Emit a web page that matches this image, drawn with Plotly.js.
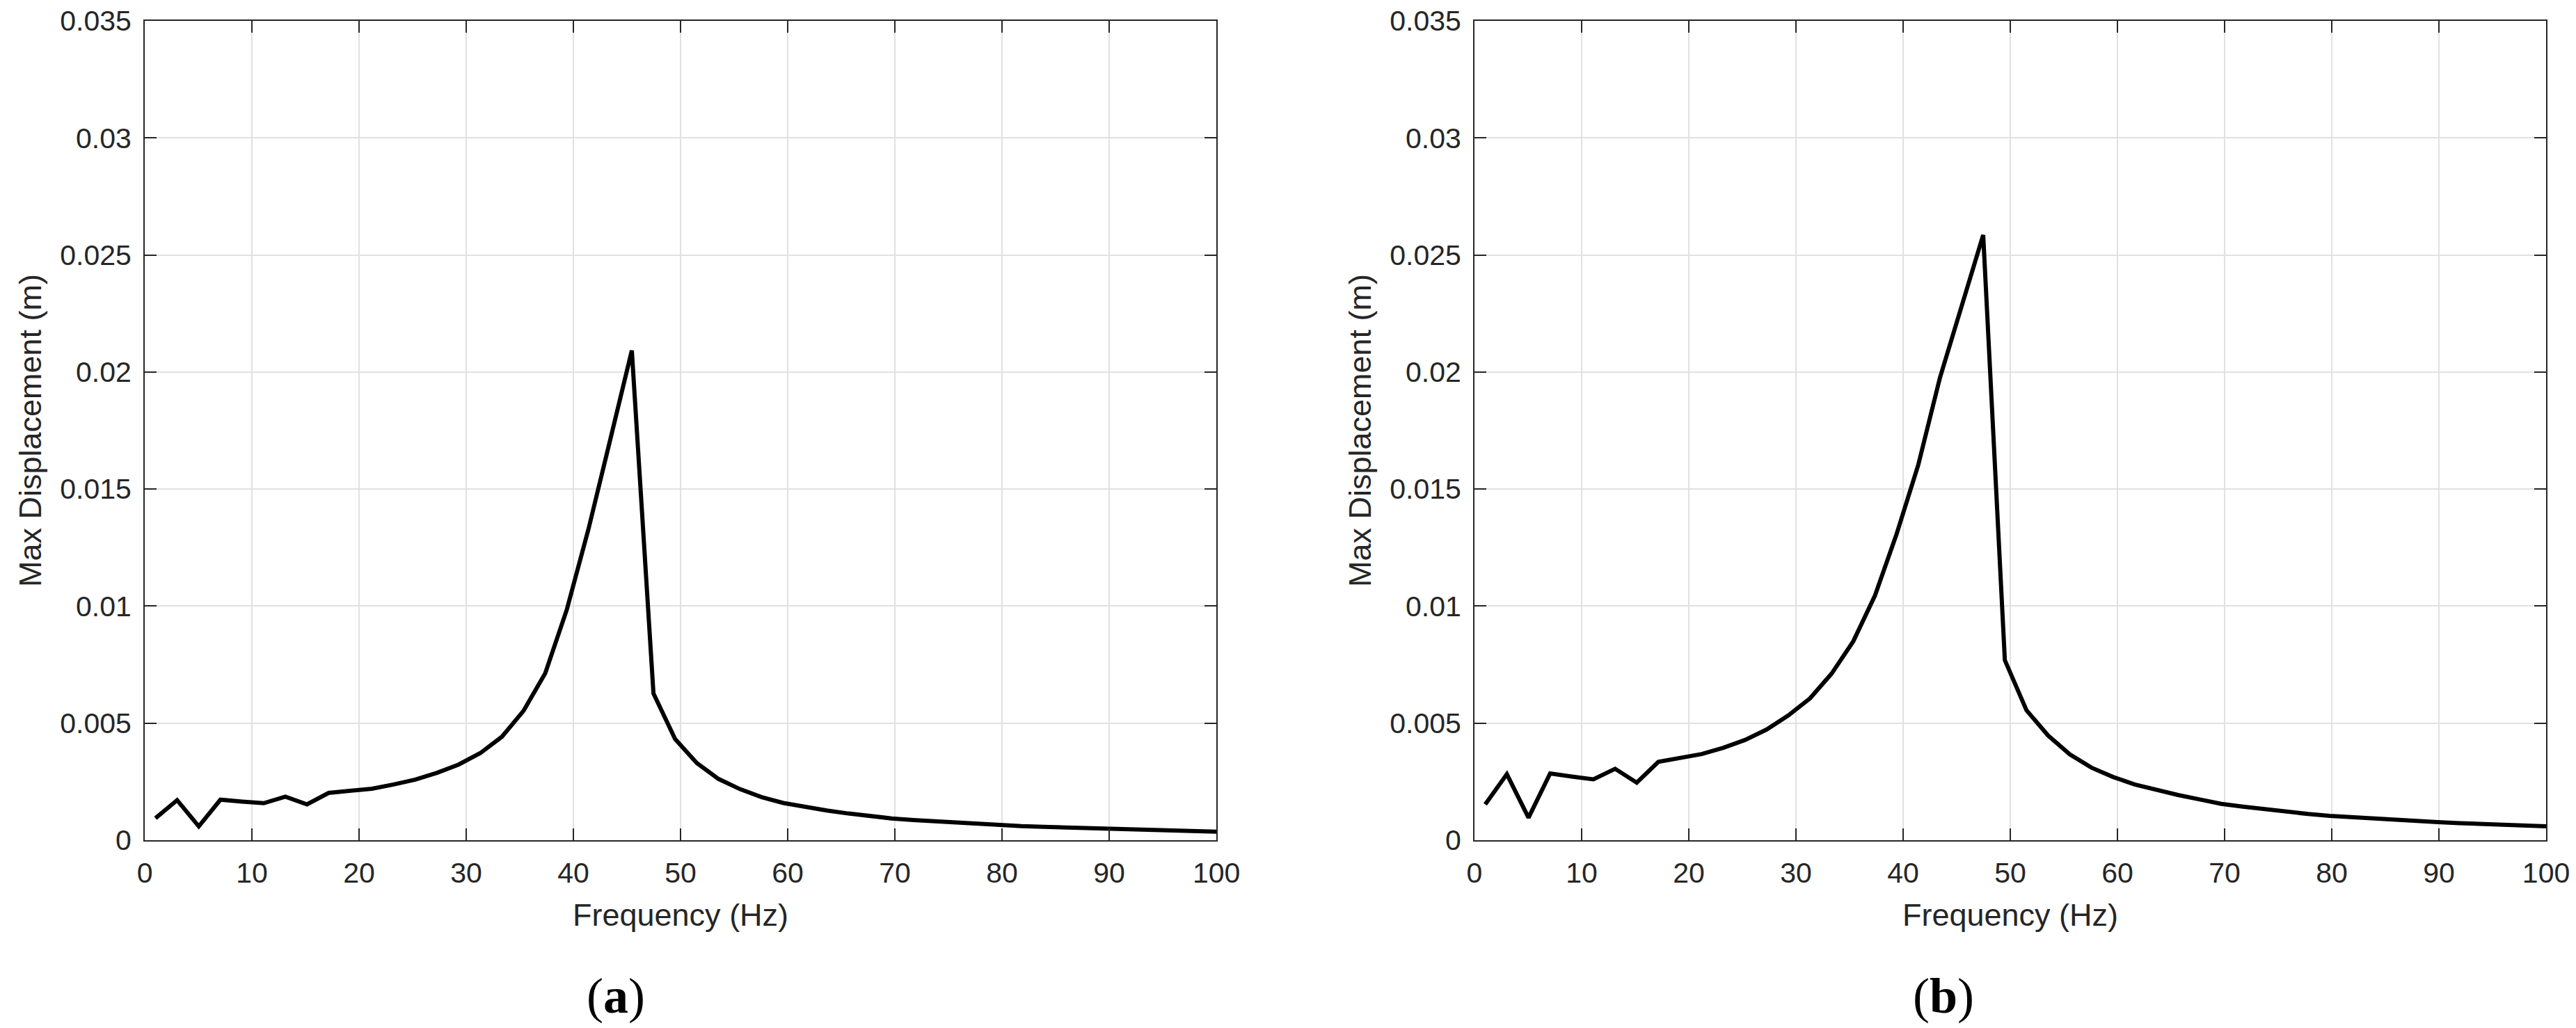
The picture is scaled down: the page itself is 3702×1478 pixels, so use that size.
<!DOCTYPE html>
<html>
<head>
<meta charset="utf-8">
<script src="https://cdn.plot.ly/plotly-3.0.1.min.js"></script>
<style>
  body { margin: 0; background: #fff; }
  #plot { width: 3702px; height: 1478px; }
</style>
</head>
<body>
<div id="plot"></div>
<script>
// excitation frequencies (Hz), 50 steps from 1 to 100
const freq = [1.00, 3.02, 5.04, 7.06, 9.08, 11.10, 13.12, 15.14, 17.16, 19.18,
  21.20, 23.22, 25.24, 27.27, 29.29, 31.31, 33.33, 35.35, 37.37, 39.39,
  41.41, 43.43, 45.45, 47.47, 49.49, 51.51, 53.53, 55.55, 57.57, 59.59,
  61.61, 63.63, 65.65, 67.67, 69.69, 71.71, 73.73, 75.76, 77.78, 79.80,
  81.82, 83.84, 85.86, 87.88, 89.90, 91.92, 93.94, 95.96, 97.98, 100.00]

// max displacement (m), panel (a)
const dispA = [0.00094, 0.00171, 0.00059, 0.00173, 0.00165, 0.00158, 0.00186, 0.00153, 0.00202, 0.00210,
  0.00220, 0.00238, 0.00259, 0.00288, 0.00323, 0.00372, 0.00442, 0.00553, 0.00713, 0.00986,
  0.01330, 0.01710, 0.02092, 0.00627, 0.00432, 0.00330, 0.00262, 0.00218, 0.00184, 0.00159,
  0.00142, 0.00127, 0.00114, 0.00103, 0.00093, 0.00086, 0.00080, 0.00074, 0.00068, 0.00063,
  0.00060, 0.00057, 0.00054, 0.00051, 0.00048, 0.00045, 0.00043, 0.00041, 0.00038, 0.00036]

// max displacement (m), panel (b)
const dispB = [0.00153, 0.00282, 0.00096, 0.00285, 0.00272, 0.00260, 0.00305, 0.00246, 0.00335, 0.00350,
  0.00368, 0.00395, 0.00428, 0.00473, 0.00533, 0.00606, 0.00712, 0.00850, 0.01045, 0.01308,
  0.01603, 0.01975, 0.02280, 0.02585, 0.00769, 0.00555, 0.00447, 0.00367, 0.00310, 0.00270,
  0.00238, 0.00214, 0.00193, 0.00174, 0.00155, 0.00143, 0.00132, 0.00122, 0.00112, 0.00104,
  0.00098, 0.00092, 0.00087, 0.00082, 0.00077, 0.00073, 0.00069, 0.00065, 0.00062, 0.00059]

const panelLabels = ["(<b>a</b>)", "(<b>b</b>)"]
const xTitle = "Frequency (Hz)"
const yTitle = "Max Displacement (m)"

const ink = "#262626"
const sans = "Liberation Sans, Arial, sans-serif"

function xAxis(domain, anchor) {
  return {
    domain: domain, anchor: anchor,
    range: [0, 100], dtick: 10,
    showline: true, linecolor: ink, linewidth: 2, mirror: "allticks",
    ticks: "inside", ticklen: 17, tickwidth: 2, tickcolor: ink,
    ticklabelstandoff: 10,
    showgrid: true, gridcolor: "#e1e1e1", gridwidth: 2, zeroline: false,
    tickfont: {family: sans, size: 41, color: ink},
    title: {text: xTitle, font: {family: sans, size: 45, color: ink}, standoff: 22}
  }
}

function yAxis(domain, anchor) {
  return {
    domain: domain, anchor: anchor,
    range: [0, 0.035], dtick: 0.005,
    showline: true, linecolor: ink, linewidth: 2, mirror: "allticks",
    ticks: "inside", ticklen: 17, tickwidth: 2, tickcolor: ink,
    ticklabelstandoff: 9,
    showgrid: true, gridcolor: "#e1e1e1", gridwidth: 2, zeroline: false,
    tickfont: {family: sans, size: 41, color: ink},
    title: {text: yTitle, font: {family: sans, size: 45, color: ink}, standoff: 12}
  }
}

const traceA = {
  x: freq, y: dispA, xaxis: "x", yaxis: "y",
  type: "scatter", mode: "lines",
  line: {color: "#000000", width: 6}
}

const traceB = {
  x: freq, y: dispB, xaxis: "x2", yaxis: "y2",
  type: "scatter", mode: "lines",
  line: {color: "#000000", width: 6}
}

const yDomain = [0.1827, 0.9797]

const layout = {
  width: 3702, height: 1478,
  margin: {l: 0, r: 0, t: 0, b: 0},
  paper_bgcolor: "#ffffff", plot_bgcolor: "#ffffff",
  showlegend: false,
  xaxis: xAxis([0.0562, 0.4722], "y"),
  yaxis: yAxis(yDomain, "x"),
  xaxis2: xAxis([0.5724, 0.9884], "y2"),
  yaxis2: yAxis(yDomain, "x2"),
  annotations: [
    {text: panelLabels[0], xref: "paper", yref: "paper", x: 0.2391, y: 0.031,
     xanchor: "center", yanchor: "middle", showarrow: false,
     font: {family: "Liberation Serif, Times New Roman, serif", size: 72, color: "#000"}},
    {text: panelLabels[1], xref: "paper", yref: "paper", x: 0.7545, y: 0.031,
     xanchor: "center", yanchor: "middle", showarrow: false,
     font: {family: "Liberation Serif, Times New Roman, serif", size: 72, color: "#000"}}
  ]
}

Plotly.newPlot("plot", [traceA, traceB], layout, {displayModeBar: false, staticPlot: true})
</script>
</body>
</html>
